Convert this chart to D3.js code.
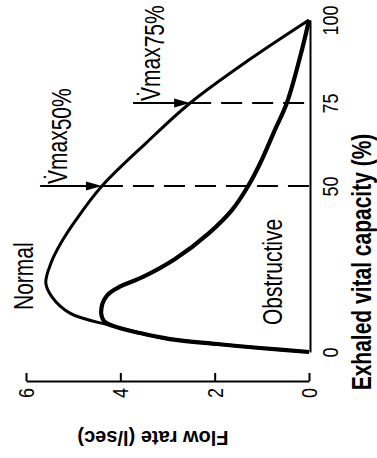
<!DOCTYPE html>
<html>
<head>
<meta charset="utf-8">
<script src="https://cdn.jsdelivr.net/npm/d3@7"></script>
<style>
  html, body { margin: 0; padding: 0; background: #fff; }
  svg { display: block; }
  text { font-family: "Liberation Sans", Arial, Helvetica, sans-serif; fill: #000; }
</style>
</head>
<body>
<svg id="chart" width="377" height="458"></svg>
<script>
// Maximal expiratory flow-volume curves, drawn turned on their side:
// exhaled vital capacity runs up the page, flow rate runs right-to-left.

const vcTicks = [0, 50, 75, 100];
const flowTicks = [0, 2, 4, 6];

// Normal subject: % vital capacity exhaled vs flow (l/sec)
const normalVC   = [0, 1.2, 2.4, 3.9, 5.7, 8.0, 11.7, 16.6, 20.8, 26.8, 32.8, 39.8, 50, 63, 75, 88, 100];
const normalFlow = [0, 1.04, 1.95, 2.95, 3.58, 4.22, 5.07, 5.45, 5.58, 5.47, 5.26, 4.94, 4.39, 3.45, 2.52, 1.27, 0];

// Obstructive subject
const obstructiveVC   = [0, 1.2, 2.4, 3.9, 5.7, 8.0, 9.6, 13.3, 17.2, 19.6, 22.6, 28.0, 35.8, 42.8, 50, 57, 67, 75, 91, 100];
const obstructiveFlow = [0, 1.04, 1.95, 2.95, 3.58, 4.18, 4.36, 4.40, 4.27, 4.02, 3.52, 2.84, 2.12, 1.63, 1.29, 1.03, 0.72, 0.47, 0.15, 0];

// Vmax markers on the normal curve
const vmaxVC    = [50, 75];
const vmaxFlow  = [4.39, 2.52];
const vmaxFrom  = [5.70, 3.73];   // flow where each arrow shaft begins
const vmaxSub   = ["50%", "75%"];

const svg = d3.select("#chart");

const flowX = d3.scaleLinear().domain([0, 6]).range([309, 26]);
const vcY   = d3.scaleLinear().domain([0, 100]).range([352, 20]);

// The lettering is set slightly wide across the page
const TEXT_SX = 1.28;
const TICK_SX = 1.18;

// Flow-rate axis (bottom), ticks pointing into the plot
const flowAxis = svg.append("g")
  .attr("transform", "translate(0,381)")
  .call(d3.axisBottom(flowX).tickValues(flowTicks).tickSize(-8).tickSizeOuter(0).tickFormat(d3.format("d")));
flowAxis.select(".domain").attr("stroke", "#000").attr("stroke-width", 2);
flowAxis.selectAll(".tick line").attr("stroke", "#000").attr("stroke-width", 2);
flowAxis.selectAll(".tick text")
  .attr("transform", `scale(${TICK_SX},1) rotate(-90)`)
  .attr("x", -7).attr("y", 0).attr("dy", "0.35em")
  .attr("text-anchor", "end")
  .style("font-size", "18px");

// Vital-capacity axis (zero-flow line on the right)
const vcAxis = svg.append("g")
  .attr("transform", "translate(310,0)")
  .call(d3.axisRight(vcY).tickValues(vcTicks).tickSize(0).tickSizeOuter(0));
vcAxis.select(".domain").attr("stroke", "#000").attr("stroke-width", 2);
vcAxis.selectAll(".tick text")
  .attr("transform", `scale(${TICK_SX},1) rotate(-90)`)
  .attr("x", 0).attr("y", 28 / TICK_SX).attr("dy", 0)
  .attr("text-anchor", "middle")
  .style("font-size", "18px");

svg.selectAll(".tick text").attr("fill", "#000").attr("font-family", null);

// Dashed reference lines from the normal curve to zero flow
svg.append("g").selectAll("line")
  .data(vmaxVC)
  .join("line")
  .attr("x1", (d, i) => flowX(vmaxFlow[i]))
  .attr("x2", flowX(0))
  .attr("y1", d => vcY(d))
  .attr("y2", d => vcY(d))
  .attr("stroke", "#000")
  .attr("stroke-width", 2)
  .attr("stroke-dasharray", "21,10");

// Curves
const line = d3.line()
  .x(d => flowX(d[1]))
  .y(d => vcY(d[0]))
  .curve(d3.curveCatmullRom.alpha(0.5));

svg.append("path")
  .datum(normalVC.map((v, i) => [v, normalFlow[i]]))
  .attr("d", line)
  .attr("fill", "none")
  .attr("stroke", "#000")
  .attr("stroke-width", 3)
  .attr("stroke-linejoin", "round");

svg.append("path")
  .datum(obstructiveVC.map((v, i) => [v, obstructiveFlow[i]]))
  .attr("d", line)
  .attr("fill", "none")
  .attr("stroke", "#000")
  .attr("stroke-width", 4.2)
  .attr("stroke-linejoin", "round");

// Arrows pointing at Vmax values
const arrows = svg.append("g");
vmaxVC.forEach((v, i) => {
  const y = vcY(v);
  const x0 = flowX(vmaxFrom[i]);
  const x1 = flowX(vmaxFlow[i]);
  arrows.append("line")
    .attr("x1", x0).attr("x2", x1 - 12)
    .attr("y1", y).attr("y2", y)
    .attr("stroke", "#000").attr("stroke-width", 2);
  arrows.append("path")
    .attr("d", `M${x1},${y}L${x1 - 16},${y - 4.5}L${x1 - 16},${y + 4.5}Z`)
    .attr("fill", "#000");

  const lbl = svg.append("text")
    .attr("transform", `translate(${x0 + 27},${y - 2}) scale(${TEXT_SX},1) rotate(-90)`)
    .attr("text-anchor", "start")
    .style("font-size", "21px");
  lbl.append("tspan").text("V\u0307max");
  lbl.append("tspan").attr("dy", 3).text(vmaxSub[i]);
});

// Curve names
svg.append("text")
  .attr("transform", `translate(33,310) scale(${TEXT_SX},1) rotate(-90)`)
  .style("font-size", "21px")
  .text("Normal");

svg.append("text")
  .attr("transform", `translate(282,325) scale(${TEXT_SX},1) rotate(-90)`)
  .style("font-size", "21px")
  .text("Obstructive");

// Axis titles
svg.append("text")
  .attr("transform", `translate(371,262) scale(${TEXT_SX},1) rotate(-90)`)
  .attr("text-anchor", "middle")
  .style("font-size", "21px")
  .style("font-weight", "bold")
  .text("Exhaled vital capacity (%)");

svg.append("text")
  .attr("transform", "translate(153,431) rotate(180)")
  .attr("text-anchor", "middle")
  .style("font-size", "20px")
  .style("font-weight", "bold")
  .text("Flow rate (l/sec)");
</script>
</body>
</html>
